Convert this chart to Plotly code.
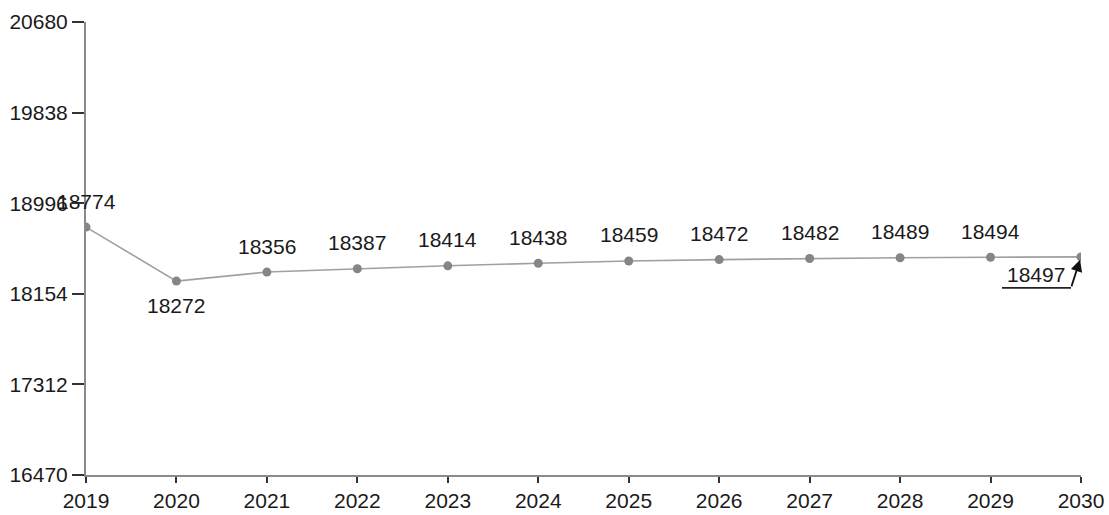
import plotly.graph_objects as go

years = [2019, 2020, 2021, 2022, 2023, 2024, 2025, 2026, 2027, 2028, 2029, 2030]
values = [18774, 18272, 18356, 18387, 18414, 18438, 18459, 18472, 18482, 18489, 18494, 18497]
y_ticks = [16470, 17312, 18154, 18996, 19838, 20680]

FONT = dict(family="Liberation Sans, Arial, sans-serif", size=21, color="#1a1a1a")

fig = go.Figure()
fig.add_trace(go.Scatter(
    x=years, y=values, mode="lines+markers",
    line=dict(color="#a0a0a0", width=1.6),
    marker=dict(color="#858585", size=9),
    hoverinfo="x+y", showlegend=False,
))

# value labels: above each point, below for the dip, callout for the last
annotations = []
for i, (yr, v) in enumerate(zip(years, values)):
    if i == len(years) - 1:
        continue
    shift = -24 if i == 1 else 26
    annotations.append(dict(
        x=yr, y=v, xref="x", yref="y", text=str(v), showarrow=False,
        yshift=shift, font=FONT,
    ))

last_x, last_y = years[-1], values[-1]
annotations.append(dict(
    x=last_x, y=last_y, xref="x", yref="y", text=str(last_y), showarrow=False,
    xshift=-45, yshift=-18, font=FONT,
))
annotations.append(dict(
    x=last_x, y=last_y, xref="x", yref="y", text="", showarrow=True,
    ax=-10, ay=31, arrowhead=2, arrowsize=1.3, arrowwidth=1.8, arrowcolor="#111",
    standoff=3,
))

shapes = [dict(
    type="line", xref="x", yref="y", xsizemode="pixel", ysizemode="pixel",
    xanchor=last_x, yanchor=last_y, x0=-79, x1=-10, y0=-31, y1=-31,
    line=dict(color="#222", width=1.8),
)]

fig.update_layout(
    width=1109, height=515,
    margin=dict(l=86, r=28, t=22, b=40),
    paper_bgcolor="white", plot_bgcolor="white",
    font=FONT,
    annotations=annotations,
    shapes=shapes,
    xaxis=dict(
        range=[2019, 2030], tickvals=years, ticktext=[str(y) for y in years],
        showgrid=False, zeroline=False, showline=True, linecolor="#8a8a8a",
        linewidth=2, ticks="outside", ticklen=6, tickwidth=2, tickcolor="#333",
        tickfont=FONT, automargin=False,
    ),
    yaxis=dict(
        range=[y_ticks[0], y_ticks[-1]], tickvals=y_ticks,
        ticktext=[str(t) for t in y_ticks],
        showgrid=False, zeroline=False, showline=True, linecolor="#8a8a8a",
        linewidth=2, ticks="outside", ticklen=12, tickwidth=2, tickcolor="#333",
        tickfont=FONT, automargin=False,
    ),
)

fig.write_html("out.html")
